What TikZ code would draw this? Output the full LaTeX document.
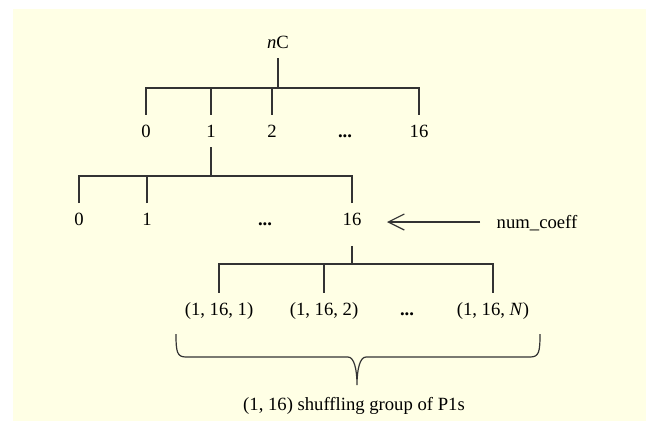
\documentclass[tikz,border=0pt]{standalone}
\usepackage{fontspec}
\setmainfont{Liberation Serif}
\usetikzlibrary{arrows.meta}
\definecolor{paper}{RGB}{255,255,229}
\tikzset{%
  >={Straight Barb[length=12pt,width=12pt]}, % open arrow head
  inner sep=0pt,%
  outer sep=7.5pt,%
  tree line/.style={line width=0.9pt,draw=black!80},%
  label node/.style={text height=9.5pt,text depth=0pt,
    font=\fontsize{14}{17}\selectfont}%
}

\begin{document}
\begin{tikzpicture}[x=0.75pt,y=-0.75pt] % one unit = one pixel, y down

%% some definitions

\def\rowA{131} % first row of indices
\def\rowB{219.5} % second row of indices
\def\rowC{309} % shuffling triples

%% background

\useasboundingbox (0,0) rectangle (646,421);
\fill[paper] (13,9) rectangle (646,421);

%% first level

\node[label node] (nC) at (278,42) {\textit{n}C};
\coordinate (J1) at (278,88);
\node[label node] (a0) at (146,\rowA) {0};
\node[label node] (a1) at (211,\rowA) {1};
\node[label node] (a2) at (272,\rowA) {2};
\node[label node] (adots) at (345,\rowA) {\textbf{...}};
\node[label node] (a16) at (419,\rowA) {16};

\draw[tree line] (nC) -- (J1);
\foreach \leaf in {a0,a1,a2,a16}
  \draw[tree line] (\leaf) |- (J1);

%% second level

\coordinate (J2) at (211,176);
\node[label node] (b0) at (79,\rowB) {0};
\node[label node] (b1) at (147,\rowB) {1};
\node[label node] (bdots) at (265,\rowB) {\textbf{...}};
\node[label node] (b16) at (352,\rowB) {16};

\draw[tree line] (a1) -- (J2);
\foreach \leaf in {b0,b1,b16}
  \draw[tree line] (\leaf) |- (J2);

% pointer to the coefficient
\node[label node] (coeff) at (537,222) {num\_coeff};
\coordinate (ptr) at (387,222);
\draw[tree line,->,shorten <=5pt] (coeff) -- (ptr);

%% third level

\coordinate (J3) at (352,264);
\node[label node] (c1) at (219,\rowC) {(1, 16, 1)};
\node[label node] (c2) at (324,\rowC) {(1, 16, 2)};
\node[label node] (cdots) at (407,\rowC) {\textbf{...}};
\node[label node] (cN) at (493,\rowC) {(1, 16, \textit{N})};

\draw[tree line,shorten <=7.5pt] (b16) -- (J3);
\foreach \leaf in {c1,c2,cN}
  \draw[tree line] (\leaf) |- (J3);

%% brace and group label

\coordinate (BL) at (176,334);
\coordinate (BR) at (540,334);
\coordinate (BT) at (357,385);
\draw[tree line] (BL) .. controls +(0,18) and +(-9,0) .. (186,357)
  -- (348,357) .. controls +(6,0) and +(0,-16) .. (BT)
  .. controls +(0,-16) and +(-6,0) .. (366,357)
  -- (530,357) .. controls +(9,0) and +(0,18) .. (BR);
\node[label node] (group) at (354,404.5) {(1, 16) shuffling group of P1s};

\end{tikzpicture}
\end{document}
